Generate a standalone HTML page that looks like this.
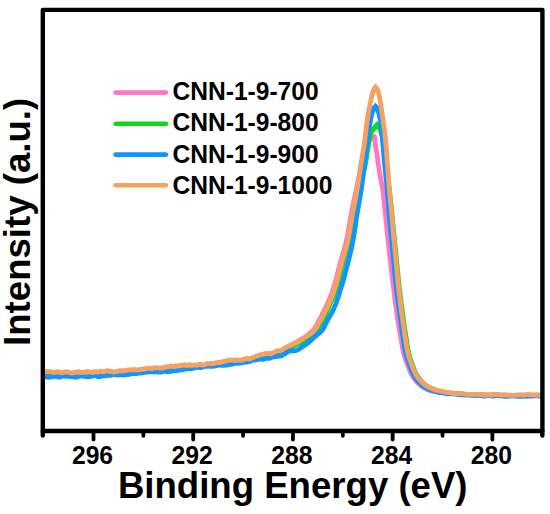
<!DOCTYPE html>
<html lang="en"><head><meta charset="utf-8"><title>C 1s XPS spectra of CNN-1-9 samples</title>
<style>
html,body{margin:0;padding:0;background:#fff;}
body{width:550px;height:514px;overflow:hidden;}
svg{display:block;}
text{font-family:"Liberation Sans",sans-serif;font-weight:bold;fill:#000;}
.curve{fill:none;stroke-width:4.8;stroke-linecap:butt;stroke-linejoin:round;}
.tip{stroke-linejoin:miter;}
.axis{fill:none;stroke:#000;stroke-width:4.4;stroke-linejoin:round;}
.tick{stroke:#000;stroke-linecap:round;}
.key{stroke-width:4.6;stroke-linecap:round;}
</style></head>
<body>
<svg width="550" height="514" viewBox="0 0 550 514" role="img" aria-label="XPS spectra: intensity versus binding energy">
<rect width="550" height="514" fill="#fff"/>
<!-- spectra (drawn 700, 800, 900, 1000 so the last sits on top) -->
<g id="spectra">
<path class="curve" stroke="#FF78C7" d="M43.5,374.2 L44.0,374.2 L44.5,374.2 L45.0,374.2 L45.5,373.9 L46.0,373.9 L46.5,373.7 L47.0,373.7 L47.5,374.2 L48.0,374.1 L48.5,373.8 L49.0,373.9 L49.5,374.2 L50.0,374.4 L50.5,374.6 L51.0,374.7 L51.5,374.9 L52.0,374.8 L52.5,374.2 L53.0,374.0 L53.5,374.0 L54.0,373.9 L54.5,373.8 L55.0,373.7 L55.5,373.6 L56.0,373.7 L56.5,373.3 L57.0,373.3 L57.5,373.9 L58.0,374.0 L58.5,373.6 L59.0,373.7 L59.5,374.4 L60.0,374.4 L60.5,374.5 L61.0,374.4 L61.5,374.4 L62.0,374.4 L62.5,374.0 L63.0,373.9 L63.5,374.3 L64.0,374.2 L64.5,373.8 L65.0,373.7 L65.5,373.6 L66.0,373.6 L66.5,373.6 L67.0,373.7 L67.5,373.7 L68.0,373.8 L68.5,374.1 L69.0,374.1 L69.5,374.3 L70.0,374.4 L70.5,373.8 L71.0,373.8 L71.5,374.2 L72.0,374.1 L72.5,374.4 L73.0,374.3 L73.5,374.1 L74.0,374.0 L74.5,374.0 L75.0,374.0 L75.5,373.6 L76.0,373.6 L76.5,374.1 L77.0,374.1 L77.5,373.7 L78.0,373.8 L78.5,374.2 L79.0,374.3 L79.5,374.6 L80.0,374.6 L80.5,374.7 L81.0,374.6 L81.5,374.2 L82.0,374.1 L82.5,374.0 L83.0,373.9 L83.5,373.6 L84.0,373.6 L84.5,373.6 L85.0,373.7 L85.5,374.2 L86.0,374.3 L86.5,374.1 L87.0,374.1 L87.5,374.1 L88.0,374.0 L88.5,373.7 L89.0,373.7 L89.5,373.9 L90.0,373.9 L90.5,374.0 L91.0,374.0 L91.5,373.7 L92.0,373.7 L92.5,373.7 L93.0,373.7 L93.5,374.0 L94.0,374.0 L94.5,373.7 L95.0,373.6 L95.5,373.5 L96.0,373.5 L96.5,373.3 L97.0,373.3 L97.5,373.4 L98.0,373.3 L98.5,373.4 L99.0,373.3 L99.5,373.6 L100.0,373.6 L100.5,373.2 L101.0,373.2 L101.5,373.6 L102.0,373.6 L102.5,373.0 L103.0,372.9 L103.5,373.0 L104.0,372.9 L104.5,373.2 L105.0,373.2 L105.5,373.1 L106.0,373.2 L106.5,373.1 L107.0,373.2 L107.5,373.3 L108.0,373.3 L108.5,373.3 L109.0,373.3 L109.5,372.8 L110.0,372.7 L110.5,372.9 L111.0,372.8 L111.5,372.8 L112.0,372.8 L112.5,372.7 L113.0,372.7 L113.5,372.9 L114.0,372.9 L114.5,372.6 L115.0,372.7 L115.5,372.8 L116.0,372.9 L116.5,373.0 L117.0,373.1 L117.5,373.3 L118.0,373.3 L118.5,373.1 L119.0,373.0 L119.5,373.2 L120.0,373.1 L120.5,372.5 L121.0,372.4 L121.5,372.7 L122.0,372.6 L122.5,372.2 L123.0,372.2 L123.5,372.4 L124.0,372.4 L124.5,372.6 L125.0,372.7 L125.5,373.0 L126.0,373.0 L126.5,372.8 L127.0,372.7 L127.5,372.3 L128.0,372.1 L128.5,372.3 L129.0,372.2 L129.5,371.8 L130.0,371.8 L130.5,371.6 L131.0,371.6 L131.5,371.8 L132.0,371.7 L132.5,371.6 L133.0,371.7 L133.5,371.9 L134.0,372.0 L134.5,371.8 L135.0,371.8 L135.5,372.0 L136.0,371.9 L136.5,371.9 L137.0,371.7 L137.5,371.6 L138.0,371.5 L138.5,371.3 L139.0,371.2 L139.5,371.1 L140.0,371.0 L140.5,371.2 L141.0,371.1 L141.5,370.9 L142.0,370.8 L142.5,370.8 L143.0,370.8 L143.5,370.6 L144.0,370.6 L144.5,370.7 L145.0,370.7 L145.5,370.5 L146.0,370.5 L146.5,370.6 L147.0,370.5 L147.5,370.5 L148.0,370.4 L148.5,370.2 L149.0,370.2 L149.5,370.3 L150.0,370.3 L150.5,370.2 L151.0,370.1 L151.5,370.3 L152.0,370.2 L152.5,369.9 L153.0,369.9 L153.5,369.6 L154.0,369.6 L154.5,369.9 L155.0,369.8 L155.5,369.7 L156.0,369.7 L156.5,369.6 L157.0,369.5 L157.5,369.8 L158.0,369.7 L158.5,369.6 L159.0,369.6 L159.5,369.6 L160.0,369.6 L160.5,369.4 L161.0,369.4 L161.5,369.4 L162.0,369.3 L162.5,369.3 L163.0,369.2 L163.5,369.4 L164.0,369.3 L164.5,368.8 L165.0,368.7 L165.5,368.7 L166.0,368.6 L166.5,368.6 L167.0,368.5 L167.5,368.1 L168.0,368.1 L168.5,368.1 L169.0,368.2 L169.5,368.8 L170.0,368.7 L170.5,368.1 L171.0,368.1 L171.5,368.4 L172.0,368.4 L172.5,368.2 L173.0,368.1 L173.5,368.1 L174.0,368.0 L174.5,367.8 L175.0,367.7 L175.5,367.9 L176.0,367.8 L176.5,368.0 L177.0,368.0 L177.5,367.5 L178.0,367.4 L178.5,367.7 L179.0,367.6 L179.5,367.5 L180.0,367.6 L180.5,367.9 L181.0,368.0 L181.5,367.6 L182.0,367.6 L182.5,367.9 L183.0,367.9 L183.5,367.8 L184.0,367.8 L184.5,367.5 L185.0,367.4 L185.5,367.0 L186.0,367.0 L186.5,367.5 L187.0,367.5 L187.5,367.0 L188.0,367.1 L188.5,367.3 L189.0,367.3 L189.5,367.5 L190.0,367.5 L190.5,367.4 L191.0,367.3 L191.5,366.8 L192.0,366.6 L192.5,366.6 L193.0,366.5 L193.5,366.4 L194.0,366.4 L194.5,366.6 L195.0,366.6 L195.5,366.8 L196.0,366.8 L196.5,365.9 L197.0,365.9 L197.5,366.4 L198.0,366.4 L198.5,365.8 L199.0,365.9 L199.5,366.5 L200.0,366.5 L200.5,366.4 L201.0,366.4 L201.5,366.9 L202.0,366.9 L202.5,366.5 L203.0,366.4 L203.5,366.1 L204.0,366.0 L204.5,366.0 L205.0,365.9 L205.5,365.8 L206.0,365.7 L206.5,365.8 L207.0,365.8 L207.5,365.8 L208.0,365.8 L208.5,365.9 L209.0,365.9 L209.5,366.0 L210.0,366.0 L210.5,365.8 L211.0,365.8 L211.5,365.5 L212.0,365.5 L212.5,365.4 L213.0,365.4 L213.5,365.5 L214.0,365.4 L214.5,365.7 L215.0,365.6 L215.5,365.4 L216.0,365.3 L216.5,365.3 L217.0,365.2 L217.5,365.3 L218.0,365.3 L218.5,365.0 L219.0,364.9 L219.5,364.9 L220.0,364.8 L220.5,365.0 L221.0,364.8 L221.5,364.6 L222.0,364.5 L222.5,364.4 L223.0,364.3 L223.5,364.4 L224.0,364.5 L224.5,364.3 L225.0,364.3 L225.5,364.3 L226.0,364.2 L226.5,364.2 L227.0,364.1 L227.5,364.2 L228.0,364.1 L228.5,363.9 L229.0,363.8 L229.5,363.6 L230.0,363.5 L230.5,363.5 L231.0,363.4 L231.5,363.4 L232.0,363.2 L232.5,363.2 L233.0,363.1 L233.5,362.6 L234.0,362.5 L234.5,362.6 L235.0,362.6 L235.5,362.4 L236.0,362.4 L236.5,362.6 L237.0,362.5 L237.5,362.4 L238.0,362.4 L238.5,362.4 L239.0,362.3 L239.5,362.0 L240.0,361.8 L240.5,361.5 L241.0,361.4 L241.5,361.3 L242.0,361.2 L242.5,361.3 L243.0,361.3 L243.5,361.3 L244.0,361.2 L244.5,361.4 L245.0,361.3 L245.5,361.1 L246.0,360.9 L246.5,360.4 L247.0,360.3 L247.5,360.4 L248.0,360.2 L248.5,359.9 L249.0,359.8 L249.5,359.7 L250.0,359.5 L250.5,359.7 L251.0,359.5 L251.5,359.3 L252.0,359.1 L252.5,358.6 L253.0,358.4 L253.5,358.5 L254.0,358.3 L254.5,357.8 L255.0,357.7 L255.5,357.5 L256.0,357.5 L256.5,357.6 L257.0,357.6 L257.5,357.4 L258.0,357.3 L258.5,357.2 L259.0,357.1 L259.5,356.9 L260.0,356.8 L260.5,356.6 L261.0,356.5 L261.5,356.2 L262.0,356.1 L262.5,356.0 L263.0,355.9 L263.5,355.7 L264.0,355.7 L264.5,355.8 L265.0,355.7 L265.5,355.9 L266.0,355.8 L266.5,355.4 L267.0,355.2 L267.5,355.2 L268.0,355.0 L268.5,354.9 L269.0,354.8 L269.5,354.4 L270.0,354.2 L270.5,354.2 L271.0,354.1 L271.5,354.2 L272.0,354.1 L272.5,353.9 L273.0,353.8 L273.5,353.9 L274.0,353.9 L274.5,353.8 L275.0,353.7 L275.5,353.5 L276.0,353.5 L276.5,353.3 L277.0,353.2 L277.5,353.0 L278.0,352.8 L278.5,352.6 L279.0,352.3 L279.5,352.3 L280.0,352.0 L280.5,351.8 L281.0,351.5 L281.5,351.2 L282.0,351.0 L282.5,350.8 L283.0,350.5 L283.5,350.0 L284.0,349.7 L284.5,349.5 L285.0,349.1 L285.5,348.7 L286.0,348.3 L286.5,348.0 L287.0,347.6 L287.5,347.3 L288.0,347.0 L288.5,346.7 L289.0,346.3 L289.5,346.2 L290.0,345.9 L290.5,345.3 L291.0,345.0 L291.5,344.9 L292.0,344.6 L292.5,344.4 L293.0,344.2 L293.5,343.9 L294.0,343.7 L294.5,343.3 L295.0,343.1 L295.5,343.0 L296.0,342.8 L296.5,342.3 L297.0,342.0 L297.5,341.6 L298.0,341.3 L298.5,341.1 L299.0,340.7 L299.5,340.2 L300.0,339.8 L300.5,339.4 L301.0,339.1 L301.5,339.1 L302.0,338.8 L302.5,338.6 L303.0,338.3 L303.5,338.1 L304.0,337.8 L304.5,337.4 L305.0,337.0 L305.5,336.7 L306.0,336.3 L306.5,335.8 L307.0,335.4 L307.5,335.2 L308.0,334.8 L308.5,334.3 L309.0,333.9 L309.5,333.4 L310.0,333.0 L310.5,332.4 L311.0,332.0 L311.5,331.7 L312.0,331.3 L312.5,330.9 L313.0,330.4 L313.5,329.8 L314.0,329.2 L314.5,328.5 L315.0,327.8 L315.5,326.9 L316.0,326.1 L316.5,325.2 L317.0,324.3 L317.5,323.4 L318.0,322.4 L318.5,321.5 L319.0,320.5 L319.5,319.6 L320.0,318.7 L320.5,317.7 L321.0,316.8 L321.5,315.9 L322.0,314.9 L322.5,313.8 L323.0,312.8 L323.5,311.9 L324.0,310.9 L324.5,309.9 L325.0,308.8 L325.5,307.9 L326.0,306.8 L326.5,305.7 L327.0,304.6 L327.5,303.5 L328.0,302.3 L328.5,301.2 L329.0,300.0 L329.5,298.7 L330.0,297.5 L330.5,296.4 L331.0,295.2 L331.5,293.8 L332.0,292.5 L332.5,291.1 L333.0,289.7 L333.5,288.2 L334.0,286.6 L334.5,284.9 L335.0,283.2 L335.5,281.3 L336.0,279.5 L336.5,277.5 L337.0,275.6 L337.5,273.6 L338.0,271.6 L338.5,269.6 L339.0,267.6 L339.5,265.8 L340.0,263.9 L340.5,262.1 L341.0,260.4 L341.5,258.7 L342.0,257.0 L342.5,255.3 L343.0,253.6 L343.5,251.9 L344.0,250.2 L344.5,248.4 L345.0,246.5 L345.5,244.5 L346.0,242.5 L346.5,240.4 L347.0,238.0 L347.5,235.5 L348.0,232.7 L348.5,229.9 L349.0,226.9 L349.5,224.0 L350.0,221.0 L350.5,218.1 L351.0,215.4 L351.5,212.8 L352.0,210.3 L352.5,207.8 L353.0,205.3 L353.5,202.9 L354.0,200.5 L354.5,198.0 L355.0,195.7 L355.5,193.3 L356.0,191.0 L356.5,188.6 L357.0,186.2 L357.5,183.9 L358.0,181.6 L358.5,179.3 L359.0,177.1 L359.5,174.8 L360.0,172.6 L360.5,170.4 L361.0,168.2 L361.5,165.9 L362.0,163.6 L362.5,161.4 L363.0,159.2 L363.5,157.0 L364.0,155.1 L364.5,153.3 L365.0,151.6 L365.5,149.9 L366.0,148.4 L366.5,146.9 L367.0,145.6 L367.5,144.3 L368.0,143.2 L368.5,142.2 L369.0,141.3 L369.5,140.4 L370.0,139.6 L370.5,138.9 L371.0,138.3 L371.5,137.7 L372.0,137.3 L372.5,136.8 L373.0,136.5 L373.5,136.4 L374.0,136.2 L374.5,136.8 L375.0,141.0 L375.5,144.8 L376.0,148.2 L376.5,151.4 L377.0,154.9 L377.5,158.6 L378.0,162.3 L378.5,165.6 L379.0,168.8 L379.5,171.7 L380.0,174.6 L380.5,177.4 L381.0,180.2 L381.5,182.7 L382.0,185.2 L382.5,188.0 L383.0,191.4 L383.5,195.5 L384.0,200.2 L384.5,205.2 L385.0,210.3 L385.5,215.3 L386.0,220.1 L386.5,225.0 L387.0,230.0 L387.5,235.0 L388.0,239.8 L388.5,244.5 L389.0,249.2 L389.5,253.8 L390.0,258.3 L390.5,262.7 L391.0,267.1 L391.5,271.3 L392.0,275.4 L392.5,279.5 L393.0,283.5 L393.5,287.5 L394.0,291.5 L394.5,295.5 L395.0,299.5 L395.5,303.5 L396.0,307.4 L396.5,311.1 L397.0,314.7 L397.5,318.0 L398.0,321.2 L398.5,324.3 L399.0,327.4 L399.5,330.3 L400.0,333.2 L400.5,336.0 L401.0,338.8 L401.5,341.7 L402.0,344.6 L402.5,347.5 L403.0,350.2 L403.5,352.6 L404.0,354.6 L404.5,356.4 L405.0,358.0 L405.5,359.4 L406.0,360.8 L406.5,362.1 L407.0,363.4 L407.5,364.7 L408.0,366.1 L408.5,367.5 L409.0,368.8 L409.5,370.1 L410.0,371.3 L410.5,372.4 L411.0,373.5 L411.5,374.5 L412.0,375.3 L412.5,376.2 L413.0,376.9 L413.5,377.8 L414.0,378.5 L414.5,379.0 L415.0,379.7 L415.5,380.3 L416.0,380.9 L416.5,381.5 L417.0,382.0 L417.5,382.7 L418.0,383.2 L418.5,383.5 L419.0,383.9 L419.5,384.5 L420.0,385.0 L420.5,385.3 L421.0,385.7 L421.5,386.1 L422.0,386.5 L422.5,386.8 L423.0,387.1 L423.5,387.6 L424.0,387.9 L424.5,388.0 L425.0,388.3 L425.5,388.5 L426.0,388.8 L426.5,389.2 L427.0,389.4 L427.5,389.5 L428.0,389.7 L428.5,390.0 L429.0,390.2 L429.5,390.4 L430.0,390.5 L430.5,390.7 L431.0,390.9 L431.5,391.0 L432.0,391.1 L432.5,391.2 L433.0,391.3 L433.5,391.4 L434.0,391.5 L434.5,391.6 L435.0,391.6 L435.5,391.6 L436.0,391.7 L436.5,391.8 L437.0,391.9 L437.5,392.0 L438.0,392.1 L438.5,392.3 L439.0,392.4 L439.5,392.4 L440.0,392.5 L440.5,392.6 L441.0,392.6 L441.5,392.6 L442.0,392.6 L442.5,392.7 L443.0,392.7 L443.5,392.6 L444.0,392.7 L444.5,392.8 L445.0,392.8 L445.5,392.7 L446.0,392.7 L446.5,392.8 L447.0,392.9 L447.5,393.0 L448.0,393.0 L448.5,393.0 L449.0,393.0 L449.5,393.2 L450.0,393.3 L450.5,393.1 L451.0,393.2 L451.5,393.3 L452.0,393.3 L452.5,393.2 L453.0,393.2 L453.5,393.3 L454.0,393.4 L454.5,393.5 L455.0,393.5 L455.5,393.6 L456.0,393.7 L456.5,393.7 L457.0,393.8 L457.5,393.9 L458.0,394.0 L458.5,394.0 L459.0,394.0 L459.5,394.0 L460.0,394.0 L460.5,394.0 L461.0,394.1 L461.5,394.2 L462.0,394.2 L462.5,394.3 L463.0,394.4 L463.5,394.6 L464.0,394.7 L464.5,394.8 L465.0,394.8 L465.5,394.7 L466.0,394.7 L466.5,394.6 L467.0,394.6 L467.5,394.7 L468.0,394.8 L468.5,394.8 L469.0,394.8 L469.5,394.5 L470.0,394.5 L470.5,394.7 L471.0,394.7 L471.5,394.8 L472.0,394.8 L472.5,394.7 L473.0,394.7 L473.5,394.7 L474.0,394.8 L474.5,394.8 L475.0,394.8 L475.5,394.9 L476.0,395.0 L476.5,394.8 L477.0,394.9 L477.5,395.0 L478.0,395.1 L478.5,395.2 L479.0,395.2 L479.5,395.1 L480.0,395.1 L480.5,395.2 L481.0,395.2 L481.5,394.9 L482.0,394.9 L482.5,395.1 L483.0,395.1 L483.5,395.1 L484.0,395.0 L484.5,394.9 L485.0,394.9 L485.5,395.0 L486.0,395.0 L486.5,395.1 L487.0,395.2 L487.5,394.9 L488.0,394.9 L488.5,394.9 L489.0,394.9 L489.5,395.0 L490.0,395.0 L490.5,395.1 L491.0,395.1 L491.5,395.0 L492.0,395.0 L492.5,395.1 L493.0,395.1 L493.5,395.1 L494.0,395.1 L494.5,395.0 L495.0,395.1 L495.5,395.1 L496.0,395.1 L496.5,395.4 L497.0,395.4 L497.5,395.4 L498.0,395.4 L498.5,395.4 L499.0,395.4 L499.5,395.3 L500.0,395.3 L500.5,395.2 L501.0,395.2 L501.5,395.2 L502.0,395.2 L502.5,395.2 L503.0,395.2 L503.5,395.1 L504.0,395.1 L504.5,395.1 L505.0,395.2 L505.5,395.2 L506.0,395.2 L506.5,395.2 L507.0,395.3 L507.5,395.6 L508.0,395.6 L508.5,395.4 L509.0,395.4 L509.5,395.3 L510.0,395.2 L510.5,395.3 L511.0,395.3 L511.5,395.3 L512.0,395.3 L512.5,395.5 L513.0,395.5 L513.5,395.4 L514.0,395.4 L514.5,395.5 L515.0,395.5 L515.5,395.5 L516.0,395.4 L516.5,395.5 L517.0,395.4 L517.5,395.5 L518.0,395.4 L518.5,395.5 L519.0,395.5 L519.5,395.3 L520.0,395.3 L520.5,395.1 L521.0,395.1 L521.5,395.3 L522.0,395.3 L522.5,395.5 L523.0,395.5 L523.5,395.7 L524.0,395.7 L524.5,395.6 L525.0,395.6 L525.5,395.6 L526.0,395.6 L526.5,395.5 L527.0,395.5 L527.5,395.6 L528.0,395.6 L528.5,395.6 L529.0,395.6 L529.5,395.5 L530.0,395.5 L530.5,395.6 L531.0,395.5 L531.5,395.5 L532.0,395.4 L532.5,395.2 L533.0,395.2 L533.5,395.3 L534.0,395.3 L534.5,395.4 L535.0,395.4 L535.5,395.3 L536.0,395.3 L536.5,395.3 L537.0,395.3 L537.5,395.2 L538.0,395.2 L538.5,395.2 L539.0,395.2 L539.5,395.2 L540.0,395.2 L540.5,395.1 L541.0,395.0"/>
<path class="curve" stroke="#0FD916" d="M43.5,374.1 L44.0,374.1 L44.5,374.8 L45.0,374.8 L45.5,374.9 L46.0,374.9 L46.5,374.8 L47.0,374.8 L47.5,374.4 L48.0,374.4 L48.5,374.8 L49.0,374.7 L49.5,374.6 L50.0,374.7 L50.5,374.5 L51.0,374.6 L51.5,374.7 L52.0,374.8 L52.5,374.5 L53.0,374.4 L53.5,374.9 L54.0,374.9 L54.5,374.3 L55.0,374.3 L55.5,374.7 L56.0,374.7 L56.5,374.7 L57.0,374.7 L57.5,374.6 L58.0,374.6 L58.5,375.0 L59.0,375.0 L59.5,374.7 L60.0,374.7 L60.5,375.0 L61.0,375.0 L61.5,375.2 L62.0,375.3 L62.5,375.2 L63.0,375.3 L63.5,375.1 L64.0,375.0 L64.5,375.2 L65.0,375.1 L65.5,374.8 L66.0,374.6 L66.5,374.4 L67.0,374.2 L67.5,374.2 L68.0,374.1 L68.5,374.2 L69.0,374.2 L69.5,374.8 L70.0,374.9 L70.5,374.6 L71.0,374.6 L71.5,374.5 L72.0,374.5 L72.5,374.3 L73.0,374.3 L73.5,374.4 L74.0,374.4 L74.5,374.3 L75.0,374.3 L75.5,374.7 L76.0,374.6 L76.5,374.5 L77.0,374.5 L77.5,374.2 L78.0,374.2 L78.5,374.2 L79.0,374.2 L79.5,374.4 L80.0,374.5 L80.5,374.4 L81.0,374.3 L81.5,374.1 L82.0,374.0 L82.5,374.2 L83.0,374.1 L83.5,374.0 L84.0,373.9 L84.5,373.9 L85.0,374.0 L85.5,374.2 L86.0,374.4 L86.5,374.4 L87.0,374.6 L87.5,375.1 L88.0,375.2 L88.5,374.7 L89.0,374.6 L89.5,374.8 L90.0,374.6 L90.5,374.5 L91.0,374.3 L91.5,374.1 L92.0,374.1 L92.5,374.2 L93.0,374.2 L93.5,374.0 L94.0,374.0 L94.5,374.0 L95.0,374.0 L95.5,374.2 L96.0,374.1 L96.5,374.0 L97.0,373.9 L97.5,374.0 L98.0,373.9 L98.5,373.7 L99.0,373.7 L99.5,373.8 L100.0,373.9 L100.5,373.9 L101.0,374.0 L101.5,374.1 L102.0,374.2 L102.5,374.2 L103.0,374.2 L103.5,374.0 L104.0,373.9 L104.5,373.8 L105.0,373.7 L105.5,374.0 L106.0,374.0 L106.5,373.2 L107.0,373.2 L107.5,373.5 L108.0,373.6 L108.5,373.8 L109.0,373.8 L109.5,373.7 L110.0,373.7 L110.5,373.8 L111.0,373.7 L111.5,373.5 L112.0,373.5 L112.5,373.2 L113.0,373.2 L113.5,373.3 L114.0,373.3 L114.5,373.0 L115.0,372.9 L115.5,373.2 L116.0,373.1 L116.5,373.1 L117.0,373.2 L117.5,372.9 L118.0,373.0 L118.5,373.2 L119.0,373.3 L119.5,373.1 L120.0,373.1 L120.5,372.9 L121.0,372.8 L121.5,372.9 L122.0,372.8 L122.5,372.6 L123.0,372.5 L123.5,372.6 L124.0,372.6 L124.5,372.7 L125.0,372.7 L125.5,372.7 L126.0,372.7 L126.5,372.9 L127.0,372.9 L127.5,372.6 L128.0,372.6 L128.5,372.7 L129.0,372.6 L129.5,372.6 L130.0,372.5 L130.5,372.5 L131.0,372.5 L131.5,372.0 L132.0,372.0 L132.5,372.3 L133.0,372.3 L133.5,372.5 L134.0,372.4 L134.5,372.0 L135.0,371.9 L135.5,372.0 L136.0,372.0 L136.5,372.0 L137.0,371.9 L137.5,371.4 L138.0,371.3 L138.5,371.5 L139.0,371.5 L139.5,371.6 L140.0,371.6 L140.5,371.6 L141.0,371.7 L141.5,371.5 L142.0,371.5 L142.5,371.8 L143.0,371.8 L143.5,371.6 L144.0,371.6 L144.5,371.8 L145.0,371.8 L145.5,371.6 L146.0,371.5 L146.5,371.2 L147.0,371.0 L147.5,371.0 L148.0,371.0 L148.5,370.8 L149.0,370.8 L149.5,370.9 L150.0,371.1 L150.5,371.0 L151.0,371.1 L151.5,371.2 L152.0,371.1 L152.5,371.0 L153.0,370.8 L153.5,370.4 L154.0,370.2 L154.5,370.0 L155.0,370.0 L155.5,369.9 L156.0,369.9 L156.5,369.9 L157.0,369.9 L157.5,370.0 L158.0,369.9 L158.5,369.5 L159.0,369.5 L159.5,370.0 L160.0,370.0 L160.5,369.6 L161.0,369.6 L161.5,369.9 L162.0,369.9 L162.5,369.7 L163.0,369.7 L163.5,369.4 L164.0,369.3 L164.5,369.4 L165.0,369.3 L165.5,369.1 L166.0,368.9 L166.5,368.8 L167.0,368.7 L167.5,368.6 L168.0,368.5 L168.5,368.2 L169.0,368.2 L169.5,368.2 L170.0,368.3 L170.5,368.4 L171.0,368.5 L171.5,368.5 L172.0,368.6 L172.5,368.8 L173.0,368.8 L173.5,368.9 L174.0,368.8 L174.5,368.6 L175.0,368.5 L175.5,368.3 L176.0,368.1 L176.5,367.8 L177.0,367.6 L177.5,367.6 L178.0,367.6 L178.5,367.1 L179.0,367.2 L179.5,367.6 L180.0,367.8 L180.5,367.9 L181.0,368.0 L181.5,368.1 L182.0,368.0 L182.5,367.9 L183.0,367.7 L183.5,367.6 L184.0,367.5 L184.5,367.4 L185.0,367.5 L185.5,367.7 L186.0,367.8 L186.5,367.5 L187.0,367.5 L187.5,367.6 L188.0,367.5 L188.5,367.0 L189.0,367.0 L189.5,367.5 L190.0,367.4 L190.5,367.3 L191.0,367.2 L191.5,366.7 L192.0,366.5 L192.5,366.3 L193.0,366.2 L193.5,365.9 L194.0,365.9 L194.5,366.0 L195.0,366.1 L195.5,366.3 L196.0,366.3 L196.5,366.2 L197.0,366.2 L197.5,365.9 L198.0,365.9 L198.5,366.0 L199.0,366.0 L199.5,365.9 L200.0,365.8 L200.5,365.9 L201.0,365.8 L201.5,365.8 L202.0,365.8 L202.5,365.7 L203.0,365.7 L203.5,365.8 L204.0,365.8 L204.5,365.8 L205.0,365.7 L205.5,365.3 L206.0,365.3 L206.5,365.6 L207.0,365.5 L207.5,365.5 L208.0,365.6 L208.5,365.8 L209.0,365.8 L209.5,365.4 L210.0,365.3 L210.5,365.7 L211.0,365.6 L211.5,365.3 L212.0,365.2 L212.5,365.3 L213.0,365.2 L213.5,365.2 L214.0,365.0 L214.5,364.4 L215.0,364.3 L215.5,364.2 L216.0,364.1 L216.5,364.4 L217.0,364.3 L217.5,363.9 L218.0,363.8 L218.5,363.7 L219.0,363.5 L219.5,363.7 L220.0,363.6 L220.5,363.4 L221.0,363.4 L221.5,363.6 L222.0,363.6 L222.5,363.6 L223.0,363.6 L223.5,363.5 L224.0,363.5 L224.5,363.6 L225.0,363.5 L225.5,363.6 L226.0,363.5 L226.5,363.1 L227.0,363.1 L227.5,363.4 L228.0,363.4 L228.5,363.4 L229.0,363.4 L229.5,363.2 L230.0,363.2 L230.5,363.1 L231.0,363.0 L231.5,362.6 L232.0,362.5 L232.5,362.3 L233.0,362.2 L233.5,362.2 L234.0,362.1 L234.5,362.1 L235.0,362.1 L235.5,362.2 L236.0,362.1 L236.5,361.6 L237.0,361.5 L237.5,361.5 L238.0,361.3 L238.5,361.1 L239.0,361.0 L239.5,360.9 L240.0,360.9 L240.5,361.0 L241.0,361.0 L241.5,360.7 L242.0,360.6 L242.5,360.9 L243.0,360.8 L243.5,360.5 L244.0,360.4 L244.5,360.4 L245.0,360.2 L245.5,360.3 L246.0,360.2 L246.5,359.9 L247.0,359.8 L247.5,359.8 L248.0,359.8 L248.5,359.7 L249.0,359.7 L249.5,359.6 L250.0,359.6 L250.5,359.5 L251.0,359.4 L251.5,359.1 L252.0,359.0 L252.5,359.1 L253.0,359.0 L253.5,359.0 L254.0,358.9 L254.5,358.8 L255.0,358.6 L255.5,358.2 L256.0,358.0 L256.5,358.0 L257.0,357.8 L257.5,357.5 L258.0,357.3 L258.5,356.9 L259.0,356.8 L259.5,356.7 L260.0,356.7 L260.5,356.8 L261.0,356.7 L261.5,356.3 L262.0,356.1 L262.5,356.2 L263.0,356.1 L263.5,356.1 L264.0,356.1 L264.5,356.1 L265.0,356.1 L265.5,356.2 L266.0,356.1 L266.5,356.2 L267.0,356.1 L267.5,355.9 L268.0,355.8 L268.5,355.8 L269.0,355.7 L269.5,356.1 L270.0,356.1 L270.5,355.5 L271.0,355.5 L271.5,355.6 L272.0,355.5 L272.5,355.4 L273.0,355.2 L273.5,355.0 L274.0,354.8 L274.5,355.0 L275.0,354.9 L275.5,354.6 L276.0,354.5 L276.5,354.5 L277.0,354.4 L277.5,353.8 L278.0,353.6 L278.5,353.8 L279.0,353.6 L279.5,353.4 L280.0,353.2 L280.5,352.8 L281.0,352.7 L281.5,352.7 L282.0,352.5 L282.5,352.2 L283.0,351.9 L283.5,351.7 L284.0,351.4 L284.5,351.2 L285.0,351.0 L285.5,350.6 L286.0,350.3 L286.5,350.0 L287.0,349.7 L287.5,349.5 L288.0,349.3 L288.5,348.9 L289.0,348.6 L289.5,348.3 L290.0,348.0 L290.5,347.6 L291.0,347.3 L291.5,347.0 L292.0,346.8 L292.5,346.7 L293.0,346.4 L293.5,346.1 L294.0,345.9 L294.5,345.4 L295.0,345.2 L295.5,345.1 L296.0,344.8 L296.5,344.3 L297.0,344.1 L297.5,344.0 L298.0,343.8 L298.5,343.7 L299.0,343.4 L299.5,343.3 L300.0,343.1 L300.5,342.9 L301.0,342.7 L301.5,342.5 L302.0,342.3 L302.5,342.2 L303.0,342.0 L303.5,341.7 L304.0,341.5 L304.5,341.2 L305.0,340.8 L305.5,340.3 L306.0,339.9 L306.5,339.4 L307.0,338.9 L307.5,338.5 L308.0,338.1 L308.5,337.7 L309.0,337.3 L309.5,336.9 L310.0,336.5 L310.5,336.2 L311.0,335.8 L311.5,335.4 L312.0,334.9 L312.5,334.4 L313.0,333.9 L313.5,333.5 L314.0,333.0 L314.5,332.3 L315.0,331.8 L315.5,331.3 L316.0,330.8 L316.5,330.1 L317.0,329.6 L317.5,329.1 L318.0,328.5 L318.5,327.9 L319.0,327.3 L319.5,326.7 L320.0,326.0 L320.5,325.2 L321.0,324.5 L321.5,323.8 L322.0,322.9 L322.5,321.9 L323.0,320.9 L323.5,319.9 L324.0,318.8 L324.5,317.6 L325.0,316.4 L325.5,315.1 L326.0,313.9 L326.5,312.7 L327.0,311.5 L327.5,310.2 L328.0,308.9 L328.5,307.8 L329.0,306.6 L329.5,305.4 L330.0,304.2 L330.5,303.1 L331.0,302.0 L331.5,300.8 L332.0,299.7 L332.5,298.6 L333.0,297.5 L333.5,296.3 L334.0,295.1 L334.5,293.9 L335.0,292.6 L335.5,291.3 L336.0,289.9 L336.5,288.4 L337.0,286.9 L337.5,285.3 L338.0,283.4 L338.5,281.5 L339.0,279.5 L339.5,277.3 L340.0,275.2 L340.5,273.1 L341.0,271.0 L341.5,268.9 L342.0,266.8 L342.5,265.0 L343.0,263.2 L343.5,261.4 L344.0,259.7 L344.5,258.0 L345.0,256.4 L345.5,254.8 L346.0,253.1 L346.5,251.5 L347.0,249.8 L347.5,248.0 L348.0,246.1 L348.5,244.2 L349.0,242.2 L349.5,240.0 L350.0,237.7 L350.5,235.1 L351.0,232.4 L351.5,229.5 L352.0,226.6 L352.5,223.6 L353.0,220.7 L353.5,217.8 L354.0,215.0 L354.5,212.2 L355.0,209.4 L355.5,206.5 L356.0,203.6 L356.5,200.8 L357.0,198.1 L357.5,195.4 L358.0,192.8 L358.5,190.4 L359.0,188.2 L359.5,186.2 L360.0,184.3 L360.5,182.5 L361.0,180.8 L361.5,179.1 L362.0,177.4 L362.5,175.7 L363.0,173.9 L363.5,172.1 L364.0,170.2 L364.5,168.1 L365.0,165.9 L365.5,163.5 L366.0,160.6 L366.5,157.4 L367.0,154.0 L367.5,150.5 L368.0,147.2 L368.5,144.1 L369.0,141.4 L369.5,139.2 L370.0,137.1 L370.5,135.2 L371.0,133.4 L371.5,132.0 L372.0,130.9 L372.5,130.2 L373.0,129.7 L373.5,129.1 L374.0,128.5 L374.5,127.9 L375.0,127.3 L375.5,126.7 L376.0,126.1 L376.5,125.5 L377.0,124.9 L377.5,125.3 L378.0,126.0 L378.5,126.7 L379.0,127.4 L379.5,128.1 L380.0,129.1 L380.5,130.4 L381.0,131.9 L381.5,133.7 L382.0,135.5 L382.5,137.5 L383.0,140.0 L383.5,143.1 L384.0,146.8 L384.5,150.9 L385.0,155.1 L385.5,159.2 L386.0,163.1 L386.5,166.9 L387.0,170.8 L387.5,174.6 L388.0,178.5 L388.5,182.5 L389.0,186.6 L389.5,190.8 L390.0,195.2 L390.5,199.7 L391.0,204.4 L391.5,209.2 L392.0,214.0 L392.5,219.0 L393.0,224.2 L393.5,229.5 L394.0,234.8 L394.5,240.0 L395.0,245.0 L395.5,250.1 L396.0,255.1 L396.5,260.0 L397.0,265.0 L397.5,270.0 L398.0,275.1 L398.5,280.1 L399.0,284.9 L399.5,289.5 L400.0,293.7 L400.5,297.8 L401.0,301.7 L401.5,305.4 L402.0,309.1 L402.5,312.7 L403.0,316.4 L403.5,320.0 L404.0,323.5 L404.5,327.0 L405.0,330.4 L405.5,333.7 L406.0,337.0 L406.5,340.2 L407.0,343.4 L407.5,346.5 L408.0,349.5 L408.5,352.1 L409.0,354.2 L409.5,356.0 L410.0,357.6 L410.5,359.2 L411.0,360.6 L411.5,362.1 L412.0,363.5 L412.5,365.0 L413.0,366.4 L413.5,367.8 L414.0,369.2 L414.5,370.5 L415.0,371.7 L415.5,372.7 L416.0,373.7 L416.5,374.5 L417.0,375.3 L417.5,376.0 L418.0,376.8 L418.5,377.5 L419.0,378.2 L419.5,378.8 L420.0,379.5 L420.5,380.1 L421.0,380.7 L421.5,381.2 L422.0,381.8 L422.5,382.3 L423.0,382.8 L423.5,383.2 L424.0,383.7 L424.5,384.2 L425.0,384.7 L425.5,384.9 L426.0,385.3 L426.5,385.7 L427.0,386.0 L427.5,386.3 L428.0,386.6 L428.5,387.0 L429.0,387.3 L429.5,387.4 L430.0,387.7 L430.5,388.0 L431.0,388.2 L431.5,388.4 L432.0,388.6 L432.5,388.8 L433.0,389.0 L433.5,389.3 L434.0,389.5 L434.5,389.7 L435.0,389.9 L435.5,390.1 L436.0,390.3 L436.5,390.4 L437.0,390.6 L437.5,390.7 L438.0,390.8 L438.5,391.1 L439.0,391.2 L439.5,391.3 L440.0,391.4 L440.5,391.4 L441.0,391.5 L441.5,391.8 L442.0,391.9 L442.5,392.1 L443.0,392.2 L443.5,392.2 L444.0,392.3 L444.5,392.3 L445.0,392.4 L445.5,392.6 L446.0,392.7 L446.5,392.6 L447.0,392.7 L447.5,392.7 L448.0,392.8 L448.5,392.9 L449.0,393.1 L449.5,393.0 L450.0,393.1 L450.5,393.3 L451.0,393.4 L451.5,393.5 L452.0,393.5 L452.5,393.7 L453.0,393.7 L453.5,393.5 L454.0,393.5 L454.5,393.6 L455.0,393.6 L455.5,393.6 L456.0,393.7 L456.5,393.8 L457.0,393.9 L457.5,394.0 L458.0,394.0 L458.5,394.0 L459.0,394.0 L459.5,394.0 L460.0,394.0 L460.5,394.3 L461.0,394.3 L461.5,394.2 L462.0,394.3 L462.5,394.4 L463.0,394.4 L463.5,394.5 L464.0,394.5 L464.5,394.5 L465.0,394.5 L465.5,394.5 L466.0,394.5 L466.5,394.4 L467.0,394.5 L467.5,394.7 L468.0,394.7 L468.5,394.6 L469.0,394.6 L469.5,394.7 L470.0,394.7 L470.5,394.5 L471.0,394.6 L471.5,394.5 L472.0,394.5 L472.5,394.8 L473.0,394.9 L473.5,395.1 L474.0,395.2 L474.5,395.2 L475.0,395.3 L475.5,395.3 L476.0,395.3 L476.5,395.3 L477.0,395.2 L477.5,395.2 L478.0,395.2 L478.5,395.0 L479.0,394.9 L479.5,394.9 L480.0,394.9 L480.5,394.9 L481.0,395.0 L481.5,394.9 L482.0,394.9 L482.5,395.2 L483.0,395.2 L483.5,395.1 L484.0,395.1 L484.5,394.9 L485.0,394.9 L485.5,395.1 L486.0,395.2 L486.5,395.2 L487.0,395.3 L487.5,395.4 L488.0,395.5 L488.5,395.6 L489.0,395.6 L489.5,395.7 L490.0,395.7 L490.5,395.6 L491.0,395.5 L491.5,395.6 L492.0,395.5 L492.5,395.5 L493.0,395.4 L493.5,395.4 L494.0,395.4 L494.5,395.3 L495.0,395.3 L495.5,395.4 L496.0,395.4 L496.5,395.4 L497.0,395.4 L497.5,395.2 L498.0,395.2 L498.5,395.3 L499.0,395.3 L499.5,395.2 L500.0,395.2 L500.5,395.5 L501.0,395.5 L501.5,395.3 L502.0,395.3 L502.5,395.4 L503.0,395.4 L503.5,395.5 L504.0,395.5 L504.5,395.4 L505.0,395.4 L505.5,395.4 L506.0,395.4 L506.5,395.4 L507.0,395.4 L507.5,395.5 L508.0,395.5 L508.5,395.4 L509.0,395.4 L509.5,395.5 L510.0,395.5 L510.5,395.5 L511.0,395.5 L511.5,395.4 L512.0,395.4 L512.5,395.5 L513.0,395.5 L513.5,395.5 L514.0,395.5 L514.5,395.6 L515.0,395.6 L515.5,395.6 L516.0,395.7 L516.5,395.6 L517.0,395.6 L517.5,395.4 L518.0,395.4 L518.5,395.5 L519.0,395.5 L519.5,395.3 L520.0,395.4 L520.5,395.5 L521.0,395.6 L521.5,395.9 L522.0,396.0 L522.5,395.9 L523.0,395.9 L523.5,396.0 L524.0,395.9 L524.5,395.6 L525.0,395.6 L525.5,395.5 L526.0,395.4 L526.5,395.3 L527.0,395.2 L527.5,395.4 L528.0,395.5 L528.5,395.4 L529.0,395.4 L529.5,395.6 L530.0,395.6 L530.5,395.6 L531.0,395.6 L531.5,395.6 L532.0,395.6 L532.5,395.5 L533.0,395.5 L533.5,395.4 L534.0,395.3 L534.5,395.2 L535.0,395.2 L535.5,395.2 L536.0,395.2 L536.5,395.1 L537.0,395.2 L537.5,395.5 L538.0,395.6 L538.5,395.8 L539.0,395.8 L539.5,395.7 L540.0,395.7 L540.5,395.7 L541.0,395.7"/>
<path class="curve tip" stroke="#0FD916" d="M372.1,130.7 L374.6,127.8 L377.1,124.8 L379.6,128.2"/>
<path class="curve" stroke="#0F95FF" d="M43.5,376.7 L44.0,376.9 L44.5,376.7 L45.0,376.8 L45.5,376.6 L46.0,376.6 L46.5,377.1 L47.0,377.1 L47.5,377.0 L48.0,377.0 L48.5,377.3 L49.0,377.3 L49.5,377.1 L50.0,377.0 L50.5,376.8 L51.0,376.7 L51.5,376.8 L52.0,376.7 L52.5,376.9 L53.0,376.8 L53.5,376.6 L54.0,376.5 L54.5,376.3 L55.0,376.3 L55.5,376.4 L56.0,376.5 L56.5,376.4 L57.0,376.6 L57.5,376.8 L58.0,376.9 L58.5,377.2 L59.0,377.2 L59.5,377.1 L60.0,377.0 L60.5,377.0 L61.0,376.9 L61.5,376.5 L62.0,376.3 L62.5,376.1 L63.0,376.0 L63.5,375.9 L64.0,375.8 L64.5,376.0 L65.0,376.0 L65.5,376.4 L66.0,376.4 L66.5,376.4 L67.0,376.4 L67.5,375.9 L68.0,376.0 L68.5,375.9 L69.0,375.9 L69.5,376.5 L70.0,376.6 L70.5,376.6 L71.0,376.6 L71.5,376.3 L72.0,376.3 L72.5,376.9 L73.0,376.9 L73.5,376.7 L74.0,376.8 L74.5,377.1 L75.0,377.1 L75.5,377.0 L76.0,377.1 L76.5,377.1 L77.0,377.1 L77.5,376.8 L78.0,376.7 L78.5,376.2 L79.0,376.1 L79.5,376.2 L80.0,376.1 L80.5,376.0 L81.0,375.9 L81.5,376.2 L82.0,376.2 L82.5,375.9 L83.0,376.0 L83.5,375.9 L84.0,376.0 L84.5,376.5 L85.0,376.6 L85.5,376.7 L86.0,376.6 L86.5,376.7 L87.0,376.7 L87.5,376.6 L88.0,376.7 L88.5,376.3 L89.0,376.4 L89.5,376.6 L90.0,376.6 L90.5,376.6 L91.0,376.4 L91.5,376.2 L92.0,376.0 L92.5,375.4 L93.0,375.3 L93.5,375.7 L94.0,375.7 L94.5,375.7 L95.0,375.8 L95.5,375.6 L96.0,375.7 L96.5,376.1 L97.0,376.3 L97.5,376.6 L98.0,376.8 L98.5,376.6 L99.0,376.6 L99.5,376.7 L100.0,376.6 L100.5,376.5 L101.0,376.4 L101.5,376.1 L102.0,376.0 L102.5,376.0 L103.0,375.9 L103.5,375.7 L104.0,375.6 L104.5,375.9 L105.0,375.9 L105.5,375.5 L106.0,375.5 L106.5,375.4 L107.0,375.3 L107.5,375.5 L108.0,375.4 L108.5,375.1 L109.0,375.1 L109.5,375.3 L110.0,375.3 L110.5,375.3 L111.0,375.2 L111.5,374.9 L112.0,374.8 L112.5,374.7 L113.0,374.6 L113.5,374.7 L114.0,374.7 L114.5,374.7 L115.0,374.8 L115.5,374.4 L116.0,374.5 L116.5,374.6 L117.0,374.6 L117.5,375.1 L118.0,375.1 L118.5,374.8 L119.0,374.8 L119.5,374.4 L120.0,374.4 L120.5,374.6 L121.0,374.6 L121.5,374.9 L122.0,374.9 L122.5,374.7 L123.0,374.6 L123.5,374.9 L124.0,374.9 L124.5,374.9 L125.0,374.9 L125.5,374.9 L126.0,374.8 L126.5,374.4 L127.0,374.2 L127.5,374.4 L128.0,374.3 L128.5,374.5 L129.0,374.4 L129.5,373.8 L130.0,373.7 L130.5,374.0 L131.0,373.9 L131.5,373.7 L132.0,373.6 L132.5,373.5 L133.0,373.5 L133.5,373.5 L134.0,373.6 L134.5,373.5 L135.0,373.5 L135.5,373.5 L136.0,373.4 L136.5,373.6 L137.0,373.4 L137.5,373.3 L138.0,373.2 L138.5,373.2 L139.0,373.2 L139.5,373.2 L140.0,373.2 L140.5,373.1 L141.0,373.1 L141.5,372.7 L142.0,372.6 L142.5,372.4 L143.0,372.3 L143.5,372.5 L144.0,372.4 L144.5,372.3 L145.0,372.2 L145.5,372.1 L146.0,372.1 L146.5,371.9 L147.0,371.9 L147.5,372.1 L148.0,372.1 L148.5,371.8 L149.0,371.7 L149.5,372.0 L150.0,371.9 L150.5,371.6 L151.0,371.6 L151.5,371.7 L152.0,371.7 L152.5,371.8 L153.0,371.8 L153.5,371.8 L154.0,371.8 L154.5,372.0 L155.0,372.0 L155.5,371.6 L156.0,371.6 L156.5,371.4 L157.0,371.4 L157.5,372.0 L158.0,372.0 L158.5,372.1 L159.0,372.2 L159.5,372.2 L160.0,372.2 L160.5,372.0 L161.0,372.0 L161.5,372.0 L162.0,371.9 L162.5,371.8 L163.0,371.7 L163.5,371.3 L164.0,371.2 L164.5,371.2 L165.0,371.1 L165.5,371.3 L166.0,371.3 L166.5,371.1 L167.0,371.2 L167.5,371.7 L168.0,371.8 L168.5,371.2 L169.0,371.1 L169.5,371.3 L170.0,371.3 L170.5,371.5 L171.0,371.5 L171.5,371.1 L172.0,371.0 L172.5,370.9 L173.0,370.8 L173.5,370.7 L174.0,370.6 L174.5,370.6 L175.0,370.5 L175.5,370.8 L176.0,370.7 L176.5,370.5 L177.0,370.4 L177.5,370.4 L178.0,370.4 L178.5,370.1 L179.0,370.0 L179.5,370.2 L180.0,370.1 L180.5,369.9 L181.0,369.9 L181.5,369.7 L182.0,369.7 L182.5,369.7 L183.0,369.6 L183.5,369.5 L184.0,369.3 L184.5,369.3 L185.0,369.1 L185.5,368.7 L186.0,368.6 L186.5,368.6 L187.0,368.6 L187.5,368.9 L188.0,368.9 L188.5,368.5 L189.0,368.5 L189.5,368.5 L190.0,368.5 L190.5,368.8 L191.0,368.7 L191.5,368.5 L192.0,368.5 L192.5,368.3 L193.0,368.2 L193.5,368.2 L194.0,368.1 L194.5,367.9 L195.0,367.7 L195.5,367.7 L196.0,367.5 L196.5,367.2 L197.0,367.1 L197.5,367.3 L198.0,367.4 L198.5,367.2 L199.0,367.3 L199.5,367.5 L200.0,367.5 L200.5,367.7 L201.0,367.6 L201.5,367.3 L202.0,367.1 L202.5,367.1 L203.0,366.9 L203.5,366.6 L204.0,366.5 L204.5,366.3 L205.0,366.3 L205.5,366.4 L206.0,366.4 L206.5,366.3 L207.0,366.3 L207.5,366.1 L208.0,366.1 L208.5,366.2 L209.0,366.2 L209.5,366.2 L210.0,366.2 L210.5,366.2 L211.0,366.2 L211.5,366.3 L212.0,366.2 L212.5,366.3 L213.0,366.2 L213.5,366.1 L214.0,365.9 L214.5,366.1 L215.0,366.0 L215.5,365.7 L216.0,365.6 L216.5,365.2 L217.0,365.0 L217.5,365.3 L218.0,365.2 L218.5,365.1 L219.0,365.1 L219.5,364.8 L220.0,364.8 L220.5,365.0 L221.0,365.1 L221.5,365.3 L222.0,365.3 L222.5,365.2 L223.0,365.3 L223.5,365.4 L224.0,365.4 L224.5,365.2 L225.0,365.1 L225.5,365.2 L226.0,365.1 L226.5,364.9 L227.0,365.0 L227.5,365.1 L228.0,365.0 L228.5,364.8 L229.0,364.7 L229.5,364.7 L230.0,364.6 L230.5,364.0 L231.0,363.9 L231.5,364.2 L232.0,364.1 L232.5,364.1 L233.0,364.0 L233.5,363.8 L234.0,363.7 L234.5,363.5 L235.0,363.4 L235.5,363.4 L236.0,363.4 L236.5,363.2 L237.0,363.2 L237.5,363.2 L238.0,363.2 L238.5,363.3 L239.0,363.2 L239.5,363.2 L240.0,363.1 L240.5,363.1 L241.0,363.0 L241.5,362.6 L242.0,362.5 L242.5,362.7 L243.0,362.6 L243.5,362.0 L244.0,362.0 L244.5,362.0 L245.0,362.0 L245.5,362.1 L246.0,362.1 L246.5,362.2 L247.0,362.2 L247.5,361.8 L248.0,361.8 L248.5,361.5 L249.0,361.3 L249.5,361.6 L250.0,361.4 L250.5,361.2 L251.0,361.0 L251.5,360.6 L252.0,360.5 L252.5,360.4 L253.0,360.3 L253.5,360.2 L254.0,360.1 L254.5,360.1 L255.0,359.9 L255.5,359.9 L256.0,359.7 L256.5,359.3 L257.0,359.2 L257.5,359.6 L258.0,359.5 L258.5,359.2 L259.0,359.1 L259.5,359.0 L260.0,359.0 L260.5,359.1 L261.0,359.1 L261.5,359.0 L262.0,359.0 L262.5,359.3 L263.0,359.4 L263.5,359.1 L264.0,359.1 L264.5,358.8 L265.0,358.7 L265.5,358.6 L266.0,358.5 L266.5,358.4 L267.0,358.4 L267.5,358.4 L268.0,358.3 L268.5,358.4 L269.0,358.4 L269.5,358.0 L270.0,357.8 L270.5,357.9 L271.0,357.7 L271.5,357.3 L272.0,357.1 L272.5,357.0 L273.0,356.9 L273.5,357.0 L274.0,356.9 L274.5,356.4 L275.0,356.4 L275.5,356.5 L276.0,356.4 L276.5,356.5 L277.0,356.4 L277.5,356.2 L278.0,356.1 L278.5,356.0 L279.0,356.0 L279.5,356.0 L280.0,356.0 L280.5,355.9 L281.0,355.8 L281.5,355.7 L282.0,355.5 L282.5,355.1 L283.0,354.8 L283.5,354.4 L284.0,354.1 L284.5,354.1 L285.0,353.8 L285.5,353.3 L286.0,353.0 L286.5,352.7 L287.0,352.4 L287.5,352.1 L288.0,351.8 L288.5,351.4 L289.0,351.1 L289.5,350.8 L290.0,350.8 L290.5,350.8 L291.0,350.8 L291.5,350.9 L292.0,350.9 L292.5,350.7 L293.0,350.6 L293.5,350.8 L294.0,350.7 L294.5,350.6 L295.0,350.6 L295.5,350.6 L296.0,350.5 L296.5,350.4 L297.0,350.2 L297.5,349.9 L298.0,349.6 L298.5,349.4 L299.0,349.1 L299.5,348.7 L300.0,348.4 L300.5,347.8 L301.0,347.4 L301.5,347.4 L302.0,347.1 L302.5,346.6 L303.0,346.3 L303.5,346.0 L304.0,345.7 L304.5,345.6 L305.0,345.2 L305.5,344.7 L306.0,344.4 L306.5,344.0 L307.0,343.6 L307.5,343.4 L308.0,343.0 L308.5,342.4 L309.0,342.0 L309.5,341.5 L310.0,341.1 L310.5,340.7 L311.0,340.3 L311.5,339.9 L312.0,339.5 L312.5,339.0 L313.0,338.6 L313.5,338.0 L314.0,337.6 L314.5,337.1 L315.0,336.6 L315.5,336.2 L316.0,335.7 L316.5,335.4 L317.0,334.9 L317.5,334.4 L318.0,334.1 L318.5,333.7 L319.0,333.3 L319.5,333.0 L320.0,332.6 L320.5,332.0 L321.0,331.5 L321.5,331.1 L322.0,330.5 L322.5,329.8 L323.0,329.1 L323.5,328.2 L324.0,327.3 L324.5,326.4 L325.0,325.3 L325.5,324.3 L326.0,323.3 L326.5,322.2 L327.0,321.1 L327.5,320.2 L328.0,319.3 L328.5,318.4 L329.0,317.5 L329.5,316.7 L330.0,315.8 L330.5,314.9 L331.0,314.0 L331.5,313.2 L332.0,312.3 L332.5,311.4 L333.0,310.4 L333.5,309.3 L334.0,308.2 L334.5,307.0 L335.0,305.8 L335.5,304.6 L336.0,303.3 L336.5,301.9 L337.0,300.5 L337.5,299.0 L338.0,297.5 L338.5,296.0 L339.0,294.4 L339.5,292.9 L340.0,291.3 L340.5,289.7 L341.0,288.1 L341.5,286.4 L342.0,284.8 L342.5,283.0 L343.0,281.3 L343.5,279.5 L344.0,277.7 L344.5,275.8 L345.0,273.9 L345.5,272.0 L346.0,270.1 L346.5,268.1 L347.0,266.1 L347.5,264.2 L348.0,262.2 L348.5,260.3 L349.0,258.3 L349.5,256.4 L350.0,254.3 L350.5,252.2 L351.0,250.1 L351.5,247.9 L352.0,245.6 L352.5,243.1 L353.0,240.6 L353.5,237.8 L354.0,234.7 L354.5,231.4 L355.0,227.9 L355.5,224.4 L356.0,220.9 L356.5,217.5 L357.0,214.4 L357.5,211.4 L358.0,208.5 L358.5,205.8 L359.0,203.0 L359.5,200.2 L360.0,197.3 L360.5,194.4 L361.0,191.3 L361.5,187.9 L362.0,184.4 L362.5,180.6 L363.0,176.8 L363.5,172.8 L364.0,168.9 L364.5,165.0 L365.0,161.2 L365.5,157.3 L366.0,153.4 L366.5,149.5 L367.0,145.7 L367.5,142.0 L368.0,138.2 L368.5,134.2 L369.0,130.3 L369.5,126.6 L370.0,123.2 L370.5,120.3 L371.0,117.8 L371.5,115.5 L372.0,113.5 L372.5,111.7 L373.0,110.3 L373.5,109.3 L374.0,108.3 L374.5,107.6 L375.0,106.9 L375.5,106.5 L376.0,107.2 L376.5,107.8 L377.0,108.7 L377.5,109.7 L378.0,110.7 L378.5,112.2 L379.0,114.0 L379.5,116.0 L380.0,118.4 L380.5,121.2 L381.0,125.0 L381.5,129.7 L382.0,134.9 L382.5,140.0 L383.0,145.4 L383.5,151.2 L384.0,157.1 L384.5,162.8 L385.0,168.1 L385.5,173.0 L386.0,177.8 L386.5,182.7 L387.0,187.8 L387.5,193.5 L388.0,199.8 L388.5,206.4 L389.0,212.7 L389.5,218.5 L390.0,223.8 L390.5,228.9 L391.0,234.0 L391.5,239.1 L392.0,244.3 L392.5,249.6 L393.0,254.9 L393.5,260.1 L394.0,265.1 L394.5,270.1 L395.0,275.0 L395.5,279.7 L396.0,284.4 L396.5,288.8 L397.0,293.1 L397.5,297.1 L398.0,301.0 L398.5,304.8 L399.0,308.5 L399.5,312.2 L400.0,315.9 L400.5,319.5 L401.0,323.2 L401.5,326.9 L402.0,330.4 L402.5,333.9 L403.0,337.2 L403.5,340.4 L404.0,343.7 L404.5,346.8 L405.0,349.8 L405.5,352.4 L406.0,354.5 L406.5,356.3 L407.0,358.0 L407.5,359.5 L408.0,360.9 L408.5,362.3 L409.0,363.6 L409.5,365.0 L410.0,366.4 L410.5,367.8 L411.0,369.2 L411.5,370.5 L412.0,371.8 L412.5,372.8 L413.0,373.8 L413.5,374.9 L414.0,375.8 L414.5,376.5 L415.0,377.3 L415.5,378.0 L416.0,378.7 L416.5,379.5 L417.0,380.2 L417.5,380.8 L418.0,381.3 L418.5,381.8 L419.0,382.3 L419.5,382.9 L420.0,383.4 L420.5,383.8 L421.0,384.3 L421.5,384.8 L422.0,385.2 L422.5,385.6 L423.0,385.9 L423.5,386.3 L424.0,386.7 L424.5,387.1 L425.0,387.4 L425.5,387.7 L426.0,388.0 L426.5,388.2 L427.0,388.5 L427.5,388.8 L428.0,389.0 L428.5,389.2 L429.0,389.4 L429.5,389.6 L430.0,389.8 L430.5,389.9 L431.0,390.1 L431.5,390.3 L432.0,390.4 L432.5,390.4 L433.0,390.5 L433.5,390.7 L434.0,390.8 L434.5,391.0 L435.0,391.2 L435.5,391.4 L436.0,391.6 L436.5,391.8 L437.0,391.9 L437.5,392.0 L438.0,392.2 L438.5,392.3 L439.0,392.4 L439.5,392.4 L440.0,392.5 L440.5,392.5 L441.0,392.5 L441.5,392.6 L442.0,392.7 L442.5,392.8 L443.0,392.9 L443.5,393.0 L444.0,393.1 L444.5,393.2 L445.0,393.3 L445.5,393.4 L446.0,393.5 L446.5,393.7 L447.0,393.8 L447.5,393.8 L448.0,393.8 L448.5,393.6 L449.0,393.5 L449.5,393.7 L450.0,393.7 L450.5,393.7 L451.0,393.7 L451.5,393.9 L452.0,393.9 L452.5,393.7 L453.0,393.8 L453.5,393.8 L454.0,393.8 L454.5,394.0 L455.0,394.1 L455.5,394.0 L456.0,394.1 L456.5,394.3 L457.0,394.4 L457.5,394.5 L458.0,394.6 L458.5,394.7 L459.0,394.7 L459.5,394.6 L460.0,394.6 L460.5,394.7 L461.0,394.7 L461.5,394.8 L462.0,394.8 L462.5,394.7 L463.0,394.7 L463.5,394.8 L464.0,394.8 L464.5,394.8 L465.0,394.8 L465.5,395.1 L466.0,395.1 L466.5,395.1 L467.0,395.1 L467.5,395.1 L468.0,395.2 L468.5,394.9 L469.0,394.9 L469.5,395.2 L470.0,395.2 L470.5,395.1 L471.0,395.1 L471.5,395.3 L472.0,395.3 L472.5,395.3 L473.0,395.3 L473.5,395.2 L474.0,395.2 L474.5,395.3 L475.0,395.3 L475.5,395.4 L476.0,395.4 L476.5,395.4 L477.0,395.4 L477.5,395.4 L478.0,395.4 L478.5,395.3 L479.0,395.3 L479.5,395.3 L480.0,395.3 L480.5,395.4 L481.0,395.4 L481.5,395.7 L482.0,395.7 L482.5,395.9 L483.0,396.0 L483.5,396.0 L484.0,396.0 L484.5,396.0 L485.0,396.0 L485.5,395.8 L486.0,395.8 L486.5,395.8 L487.0,395.8 L487.5,395.6 L488.0,395.6 L488.5,395.5 L489.0,395.5 L489.5,395.5 L490.0,395.6 L490.5,395.8 L491.0,395.8 L491.5,395.8 L492.0,395.8 L492.5,396.1 L493.0,396.2 L493.5,396.0 L494.0,396.0 L494.5,395.9 L495.0,395.8 L495.5,395.7 L496.0,395.6 L496.5,395.7 L497.0,395.7 L497.5,395.5 L498.0,395.5 L498.5,395.7 L499.0,395.8 L499.5,395.8 L500.0,395.8 L500.5,395.9 L501.0,396.0 L501.5,395.9 L502.0,396.0 L502.5,396.0 L503.0,396.1 L503.5,396.2 L504.0,396.3 L504.5,396.3 L505.0,396.3 L505.5,396.4 L506.0,396.4 L506.5,396.3 L507.0,396.2 L507.5,396.4 L508.0,396.4 L508.5,396.2 L509.0,396.1 L509.5,396.2 L510.0,396.2 L510.5,396.0 L511.0,396.0 L511.5,396.0 L512.0,396.0 L512.5,396.0 L513.0,395.9 L513.5,396.0 L514.0,396.0 L514.5,396.1 L515.0,396.2 L515.5,396.1 L516.0,396.1 L516.5,396.2 L517.0,396.2 L517.5,396.4 L518.0,396.4 L518.5,396.3 L519.0,396.3 L519.5,396.2 L520.0,396.2 L520.5,396.4 L521.0,396.3 L521.5,396.3 L522.0,396.2 L522.5,395.8 L523.0,395.8 L523.5,396.0 L524.0,396.0 L524.5,396.2 L525.0,396.2 L525.5,396.2 L526.0,396.2 L526.5,396.1 L527.0,396.1 L527.5,396.3 L528.0,396.2 L528.5,396.0 L529.0,395.9 L529.5,396.0 L530.0,396.0 L530.5,396.0 L531.0,396.1 L531.5,396.1 L532.0,396.1 L532.5,396.2 L533.0,396.2 L533.5,396.2 L534.0,396.1 L534.5,395.9 L535.0,395.8 L535.5,395.9 L536.0,395.8 L536.5,395.6 L537.0,395.6 L537.5,395.7 L538.0,395.7 L538.5,396.0 L539.0,396.0 L539.5,395.9 L540.0,395.9 L540.5,396.1 L541.0,396.1"/>
<path class="curve tip" stroke="#0F95FF" d="M372.9,110.5 L374.1,108.0 L375.4,106.4 L376.6,108.0 L377.9,110.5"/>
<path class="curve" stroke="#F4A162" d="M43.5,372.5 L44.0,372.4 L44.5,371.9 L45.0,371.8 L45.5,371.5 L46.0,371.3 L46.5,371.7 L47.0,371.6 L47.5,371.6 L48.0,371.5 L48.5,371.6 L49.0,371.7 L49.5,371.4 L50.0,371.6 L50.5,371.6 L51.0,371.8 L51.5,371.9 L52.0,372.0 L52.5,372.3 L53.0,372.4 L53.5,372.6 L54.0,372.5 L54.5,372.5 L55.0,372.4 L55.5,371.9 L56.0,371.7 L56.5,372.0 L57.0,371.9 L57.5,371.7 L58.0,371.7 L58.5,371.8 L59.0,372.0 L59.5,372.1 L60.0,372.3 L60.5,372.5 L61.0,372.6 L61.5,372.8 L62.0,372.7 L62.5,372.5 L63.0,372.4 L63.5,372.3 L64.0,372.2 L64.5,372.0 L65.0,372.0 L65.5,372.2 L66.0,372.2 L66.5,372.1 L67.0,372.2 L67.5,371.7 L68.0,371.8 L68.5,372.4 L69.0,372.5 L69.5,372.4 L70.0,372.5 L70.5,372.9 L71.0,372.9 L71.5,372.8 L72.0,372.8 L72.5,372.8 L73.0,372.7 L73.5,372.7 L74.0,372.6 L74.5,372.4 L75.0,372.3 L75.5,372.1 L76.0,372.1 L76.5,371.7 L77.0,371.7 L77.5,372.4 L78.0,372.4 L78.5,371.7 L79.0,371.7 L79.5,372.1 L80.0,372.2 L80.5,372.4 L81.0,372.5 L81.5,372.4 L82.0,372.4 L82.5,372.4 L83.0,372.3 L83.5,372.3 L84.0,372.2 L84.5,372.2 L85.0,372.1 L85.5,371.9 L86.0,371.8 L86.5,372.3 L87.0,372.3 L87.5,371.4 L88.0,371.5 L88.5,371.8 L89.0,371.8 L89.5,371.8 L90.0,371.9 L90.5,372.0 L91.0,372.1 L91.5,372.3 L92.0,372.3 L92.5,372.5 L93.0,372.4 L93.5,371.9 L94.0,371.8 L94.5,371.7 L95.0,371.6 L95.5,371.9 L96.0,371.8 L96.5,371.8 L97.0,371.8 L97.5,372.1 L98.0,372.1 L98.5,371.8 L99.0,371.7 L99.5,371.5 L100.0,371.3 L100.5,371.2 L101.0,371.2 L101.5,371.4 L102.0,371.6 L102.5,371.6 L103.0,371.8 L103.5,371.6 L104.0,371.5 L104.5,371.7 L105.0,371.5 L105.5,371.2 L106.0,371.0 L106.5,370.9 L107.0,370.8 L107.5,370.7 L108.0,370.7 L108.5,371.2 L109.0,371.3 L109.5,371.1 L110.0,371.3 L110.5,371.5 L111.0,371.6 L111.5,371.4 L112.0,371.6 L112.5,371.7 L113.0,371.8 L113.5,372.0 L114.0,372.1 L114.5,372.1 L115.0,372.0 L115.5,371.8 L116.0,371.6 L116.5,371.5 L117.0,371.3 L117.5,371.4 L118.0,371.2 L118.5,371.0 L119.0,370.9 L119.5,370.6 L120.0,370.7 L120.5,370.9 L121.0,371.0 L121.5,370.9 L122.0,370.9 L122.5,371.0 L123.0,371.0 L123.5,370.6 L124.0,370.5 L124.5,370.6 L125.0,370.6 L125.5,370.7 L126.0,370.6 L126.5,370.4 L127.0,370.3 L127.5,370.0 L128.0,369.9 L128.5,369.9 L129.0,369.9 L129.5,370.0 L130.0,369.9 L130.5,370.0 L131.0,369.9 L131.5,370.0 L132.0,369.9 L132.5,369.7 L133.0,369.7 L133.5,369.5 L134.0,369.5 L134.5,370.0 L135.0,370.0 L135.5,369.8 L136.0,369.9 L136.5,369.9 L137.0,370.0 L137.5,370.0 L138.0,370.0 L138.5,369.7 L139.0,369.6 L139.5,369.6 L140.0,369.5 L140.5,369.5 L141.0,369.4 L141.5,369.5 L142.0,369.5 L142.5,369.3 L143.0,369.3 L143.5,368.7 L144.0,368.7 L144.5,369.1 L145.0,368.9 L145.5,368.8 L146.0,368.6 L146.5,368.6 L147.0,368.4 L147.5,368.1 L148.0,368.0 L148.5,368.3 L149.0,368.4 L149.5,368.3 L150.0,368.4 L150.5,368.5 L151.0,368.6 L151.5,368.6 L152.0,368.5 L152.5,368.0 L153.0,367.9 L153.5,368.2 L154.0,368.1 L154.5,368.0 L155.0,367.9 L155.5,367.6 L156.0,367.6 L156.5,367.7 L157.0,367.8 L157.5,367.8 L158.0,367.9 L158.5,367.8 L159.0,367.9 L159.5,368.1 L160.0,368.1 L160.5,368.0 L161.0,368.0 L161.5,368.1 L162.0,368.0 L162.5,367.9 L163.0,367.8 L163.5,367.9 L164.0,367.8 L164.5,367.2 L165.0,367.1 L165.5,367.3 L166.0,367.1 L166.5,366.8 L167.0,366.6 L167.5,366.7 L168.0,366.6 L168.5,366.7 L169.0,366.6 L169.5,366.4 L170.0,366.3 L170.5,366.2 L171.0,366.1 L171.5,366.1 L172.0,366.1 L172.5,366.5 L173.0,366.5 L173.5,366.1 L174.0,366.2 L174.5,366.5 L175.0,366.5 L175.5,366.0 L176.0,366.0 L176.5,366.1 L177.0,366.0 L177.5,366.1 L178.0,366.0 L178.5,365.8 L179.0,365.7 L179.5,365.8 L180.0,365.7 L180.5,365.7 L181.0,365.6 L181.5,365.2 L182.0,365.1 L182.5,365.2 L183.0,365.1 L183.5,365.0 L184.0,365.0 L184.5,364.7 L185.0,364.8 L185.5,365.2 L186.0,365.3 L186.5,365.2 L187.0,365.2 L187.5,365.6 L188.0,365.4 L188.5,364.9 L189.0,364.7 L189.5,365.2 L190.0,365.2 L190.5,364.8 L191.0,364.9 L191.5,365.5 L192.0,365.5 L192.5,365.3 L193.0,365.2 L193.5,365.1 L194.0,365.1 L194.5,365.1 L195.0,365.0 L195.5,365.0 L196.0,365.0 L196.5,365.1 L197.0,365.1 L197.5,365.1 L198.0,365.0 L198.5,364.5 L199.0,364.5 L199.5,364.3 L200.0,364.4 L200.5,364.2 L201.0,364.4 L201.5,364.9 L202.0,364.9 L202.5,365.1 L203.0,365.0 L203.5,364.9 L204.0,364.8 L204.5,364.7 L205.0,364.5 L205.5,364.3 L206.0,364.1 L206.5,363.8 L207.0,363.6 L207.5,363.6 L208.0,363.5 L208.5,363.6 L209.0,363.7 L209.5,363.4 L210.0,363.4 L210.5,363.9 L211.0,363.9 L211.5,363.5 L212.0,363.4 L212.5,363.7 L213.0,363.7 L213.5,363.5 L214.0,363.5 L214.5,363.4 L215.0,363.2 L215.5,362.9 L216.0,362.8 L216.5,362.6 L217.0,362.5 L217.5,362.6 L218.0,362.5 L218.5,362.2 L219.0,362.2 L219.5,362.7 L220.0,362.6 L220.5,362.1 L221.0,362.1 L221.5,362.0 L222.0,361.9 L222.5,361.8 L223.0,361.7 L223.5,361.5 L224.0,361.4 L224.5,361.1 L225.0,361.0 L225.5,361.2 L226.0,361.0 L226.5,360.9 L227.0,360.8 L227.5,360.3 L228.0,360.2 L228.5,360.3 L229.0,360.2 L229.5,359.9 L230.0,359.9 L230.5,360.0 L231.0,360.0 L231.5,360.1 L232.0,360.2 L232.5,360.3 L233.0,360.4 L233.5,360.4 L234.0,360.5 L234.5,360.2 L235.0,360.2 L235.5,360.4 L236.0,360.3 L236.5,359.9 L237.0,359.8 L237.5,360.0 L238.0,360.0 L238.5,360.1 L239.0,360.2 L239.5,360.1 L240.0,360.2 L240.5,360.1 L241.0,360.1 L241.5,360.4 L242.0,360.2 L242.5,359.8 L243.0,359.6 L243.5,359.4 L244.0,359.2 L244.5,359.0 L245.0,358.9 L245.5,359.0 L246.0,358.9 L246.5,358.6 L247.0,358.6 L247.5,358.2 L248.0,358.3 L248.5,358.8 L249.0,358.8 L249.5,359.0 L250.0,358.9 L250.5,358.8 L251.0,358.6 L251.5,358.1 L252.0,357.9 L252.5,357.7 L253.0,357.5 L253.5,357.3 L254.0,357.1 L254.5,356.9 L255.0,356.7 L255.5,356.4 L256.0,356.2 L256.5,355.9 L257.0,355.8 L257.5,355.8 L258.0,355.7 L258.5,355.5 L259.0,355.4 L259.5,355.0 L260.0,354.8 L260.5,354.8 L261.0,354.7 L261.5,354.6 L262.0,354.5 L262.5,354.3 L263.0,354.2 L263.5,354.1 L264.0,353.9 L264.5,353.8 L265.0,353.8 L265.5,353.7 L266.0,353.7 L266.5,353.5 L267.0,353.5 L267.5,353.2 L268.0,353.2 L268.5,353.6 L269.0,353.6 L269.5,353.8 L270.0,353.8 L270.5,353.9 L271.0,353.8 L271.5,353.4 L272.0,353.3 L272.5,353.2 L273.0,352.9 L273.5,352.8 L274.0,352.5 L274.5,352.2 L275.0,351.9 L275.5,351.5 L276.0,351.3 L276.5,351.2 L277.0,351.0 L277.5,350.7 L278.0,350.6 L278.5,350.8 L279.0,350.8 L279.5,350.6 L280.0,350.6 L280.5,350.6 L281.0,350.4 L281.5,350.2 L282.0,349.9 L282.5,349.6 L283.0,349.2 L283.5,348.8 L284.0,348.4 L284.5,348.2 L285.0,347.9 L285.5,347.7 L286.0,347.3 L286.5,347.0 L287.0,346.7 L287.5,346.5 L288.0,346.3 L288.5,346.1 L289.0,345.9 L289.5,345.7 L290.0,345.5 L290.5,345.3 L291.0,345.1 L291.5,344.7 L292.0,344.5 L292.5,344.4 L293.0,344.2 L293.5,343.9 L294.0,343.7 L294.5,343.4 L295.0,343.2 L295.5,342.9 L296.0,342.7 L296.5,342.6 L297.0,342.3 L297.5,341.9 L298.0,341.6 L298.5,341.5 L299.0,341.2 L299.5,340.7 L300.0,340.4 L300.5,340.1 L301.0,339.8 L301.5,339.5 L302.0,339.1 L302.5,339.0 L303.0,338.7 L303.5,338.2 L304.0,337.8 L304.5,337.6 L305.0,337.2 L305.5,336.9 L306.0,336.5 L306.5,336.3 L307.0,336.0 L307.5,335.7 L308.0,335.5 L308.5,335.3 L309.0,335.0 L309.5,334.4 L310.0,334.1 L310.5,333.8 L311.0,333.4 L311.5,333.1 L312.0,332.7 L312.5,332.1 L313.0,331.6 L313.5,331.2 L314.0,330.6 L314.5,330.0 L315.0,329.4 L315.5,328.6 L316.0,327.9 L316.5,327.2 L317.0,326.3 L317.5,325.5 L318.0,324.6 L318.5,323.7 L319.0,322.8 L319.5,321.8 L320.0,321.0 L320.5,320.2 L321.0,319.3 L321.5,318.4 L322.0,317.5 L322.5,316.6 L323.0,315.7 L323.5,314.7 L324.0,313.8 L324.5,312.8 L325.0,311.8 L325.5,310.8 L326.0,309.8 L326.5,308.7 L327.0,307.7 L327.5,306.7 L328.0,305.6 L328.5,304.4 L329.0,303.3 L329.5,302.2 L330.0,301.0 L330.5,299.9 L331.0,298.7 L331.5,297.5 L332.0,296.2 L332.5,295.0 L333.0,293.7 L333.5,292.3 L334.0,290.9 L334.5,289.4 L335.0,287.8 L335.5,286.2 L336.0,284.5 L336.5,282.6 L337.0,280.8 L337.5,278.8 L338.0,276.9 L338.5,274.9 L339.0,273.0 L339.5,271.0 L340.0,269.0 L340.5,267.1 L341.0,265.3 L341.5,263.4 L342.0,261.7 L342.5,259.9 L343.0,258.2 L343.5,256.6 L344.0,254.9 L344.5,253.1 L345.0,251.4 L345.5,249.6 L346.0,247.7 L346.5,245.8 L347.0,243.8 L347.5,241.7 L348.0,239.5 L348.5,237.1 L349.0,234.4 L349.5,231.6 L350.0,228.6 L350.5,225.6 L351.0,222.6 L351.5,219.6 L352.0,216.7 L352.5,213.9 L353.0,211.2 L353.5,208.6 L354.0,206.1 L354.5,203.5 L355.0,200.9 L355.5,198.3 L356.0,195.7 L356.5,192.9 L357.0,190.0 L357.5,187.0 L358.0,183.8 L358.5,180.4 L359.0,177.1 L359.5,173.7 L360.0,170.3 L360.5,167.0 L361.0,163.7 L361.5,160.6 L362.0,157.6 L362.5,154.6 L363.0,151.6 L363.5,148.6 L364.0,145.5 L364.5,142.1 L365.0,138.5 L365.5,134.3 L366.0,129.9 L366.5,125.4 L367.0,121.4 L367.5,118.0 L368.0,115.0 L368.5,112.2 L369.0,109.6 L369.5,107.0 L370.0,104.4 L370.5,101.9 L371.0,99.4 L371.5,97.2 L372.0,95.1 L372.5,93.4 L373.0,92.0 L373.5,90.8 L374.0,89.6 L374.5,88.6 L375.0,88.0 L375.5,87.4 L376.0,87.8 L376.5,88.4 L377.0,89.1 L377.5,90.3 L378.0,91.5 L378.5,92.8 L379.0,94.4 L379.5,96.7 L380.0,99.7 L380.5,103.1 L381.0,106.5 L381.5,109.8 L382.0,113.1 L382.5,116.5 L383.0,120.0 L383.5,123.7 L384.0,127.4 L384.5,131.2 L385.0,135.4 L385.5,140.0 L386.0,145.5 L386.5,151.8 L387.0,158.4 L387.5,165.0 L388.0,171.6 L388.5,178.5 L389.0,185.1 L389.5,191.1 L390.0,196.6 L390.5,201.7 L391.0,206.7 L391.5,211.8 L392.0,217.2 L392.5,222.9 L393.0,228.7 L393.5,234.4 L394.0,240.0 L394.5,245.4 L395.0,250.6 L395.5,255.8 L396.0,260.9 L396.5,266.1 L397.0,271.3 L397.5,276.6 L398.0,281.8 L398.5,286.8 L399.0,291.4 L399.5,295.7 L400.0,299.8 L400.5,303.7 L401.0,307.6 L401.5,311.3 L402.0,315.0 L402.5,318.7 L403.0,322.2 L403.5,325.7 L404.0,329.2 L404.5,332.5 L405.0,335.8 L405.5,339.0 L406.0,342.2 L406.5,345.4 L407.0,348.4 L407.5,351.1 L408.0,353.4 L408.5,355.3 L409.0,357.0 L409.5,358.5 L410.0,360.0 L410.5,361.3 L411.0,362.7 L411.5,364.1 L412.0,365.6 L412.5,366.9 L413.0,368.3 L413.5,369.6 L414.0,370.9 L414.5,372.0 L415.0,373.0 L415.5,373.9 L416.0,374.8 L416.5,375.5 L417.0,376.3 L417.5,377.0 L418.0,377.7 L418.5,378.4 L419.0,379.0 L419.5,379.6 L420.0,380.2 L420.5,380.8 L421.0,381.3 L421.5,381.8 L422.0,382.3 L422.5,382.7 L423.0,383.2 L423.5,383.6 L424.0,384.0 L424.5,384.4 L425.0,384.8 L425.5,385.2 L426.0,385.6 L426.5,385.9 L427.0,386.2 L427.5,386.5 L428.0,386.8 L428.5,387.1 L429.0,387.4 L429.5,387.6 L430.0,387.8 L430.5,388.0 L431.0,388.2 L431.5,388.3 L432.0,388.5 L432.5,388.8 L433.0,389.0 L433.5,389.1 L434.0,389.3 L434.5,389.6 L435.0,389.8 L435.5,390.0 L436.0,390.1 L436.5,390.3 L437.0,390.4 L437.5,390.4 L438.0,390.4 L438.5,390.6 L439.0,390.7 L439.5,390.8 L440.0,390.9 L440.5,391.0 L441.0,391.1 L441.5,391.2 L442.0,391.3 L442.5,391.5 L443.0,391.6 L443.5,391.7 L444.0,391.7 L444.5,391.9 L445.0,392.0 L445.5,392.1 L446.0,392.2 L446.5,392.3 L447.0,392.4 L447.5,392.5 L448.0,392.6 L448.5,392.4 L449.0,392.4 L449.5,392.6 L450.0,392.6 L450.5,392.6 L451.0,392.7 L451.5,393.0 L452.0,393.1 L452.5,393.1 L453.0,393.3 L453.5,393.1 L454.0,393.2 L454.5,393.6 L455.0,393.7 L455.5,393.5 L456.0,393.5 L456.5,393.7 L457.0,393.7 L457.5,393.6 L458.0,393.6 L458.5,393.6 L459.0,393.6 L459.5,393.6 L460.0,393.5 L460.5,393.5 L461.0,393.4 L461.5,393.3 L462.0,393.4 L462.5,393.6 L463.0,393.7 L463.5,393.7 L464.0,393.8 L464.5,393.9 L465.0,394.0 L465.5,394.2 L466.0,394.3 L466.5,394.2 L467.0,394.2 L467.5,394.5 L468.0,394.5 L468.5,394.3 L469.0,394.3 L469.5,394.3 L470.0,394.4 L470.5,394.4 L471.0,394.4 L471.5,394.4 L472.0,394.4 L472.5,394.4 L473.0,394.4 L473.5,394.5 L474.0,394.5 L474.5,394.5 L475.0,394.4 L475.5,394.5 L476.0,394.4 L476.5,394.3 L477.0,394.3 L477.5,394.2 L478.0,394.3 L478.5,394.5 L479.0,394.6 L479.5,394.7 L480.0,394.7 L480.5,394.7 L481.0,394.7 L481.5,394.6 L482.0,394.7 L482.5,394.6 L483.0,394.7 L483.5,395.1 L484.0,395.2 L484.5,395.1 L485.0,395.1 L485.5,395.3 L486.0,395.2 L486.5,394.9 L487.0,394.8 L487.5,395.0 L488.0,394.9 L488.5,394.7 L489.0,394.7 L489.5,394.9 L490.0,394.9 L490.5,395.0 L491.0,395.0 L491.5,394.9 L492.0,394.9 L492.5,394.6 L493.0,394.5 L493.5,394.5 L494.0,394.5 L494.5,394.4 L495.0,394.4 L495.5,394.5 L496.0,394.5 L496.5,394.5 L497.0,394.5 L497.5,394.5 L498.0,394.5 L498.5,394.6 L499.0,394.6 L499.5,394.8 L500.0,394.8 L500.5,394.9 L501.0,395.0 L501.5,395.1 L502.0,395.1 L502.5,394.9 L503.0,394.9 L503.5,395.0 L504.0,395.0 L504.5,394.9 L505.0,395.0 L505.5,395.1 L506.0,395.1 L506.5,395.2 L507.0,395.1 L507.5,395.1 L508.0,395.0 L508.5,395.1 L509.0,395.1 L509.5,395.3 L510.0,395.3 L510.5,395.2 L511.0,395.3 L511.5,395.3 L512.0,395.3 L512.5,395.3 L513.0,395.3 L513.5,395.3 L514.0,395.3 L514.5,395.2 L515.0,395.1 L515.5,395.2 L516.0,395.1 L516.5,395.0 L517.0,395.0 L517.5,394.9 L518.0,394.8 L518.5,394.9 L519.0,394.9 L519.5,394.9 L520.0,395.0 L520.5,395.0 L521.0,395.1 L521.5,395.2 L522.0,395.2 L522.5,395.0 L523.0,395.0 L523.5,395.0 L524.0,394.9 L524.5,394.8 L525.0,394.8 L525.5,394.7 L526.0,394.7 L526.5,394.6 L527.0,394.6 L527.5,394.6 L528.0,394.5 L528.5,394.6 L529.0,394.6 L529.5,394.5 L530.0,394.5 L530.5,394.6 L531.0,394.7 L531.5,394.9 L532.0,394.9 L532.5,394.9 L533.0,394.9 L533.5,395.1 L534.0,395.2 L534.5,395.1 L535.0,395.1 L535.5,395.1 L536.0,395.1 L536.5,395.0 L537.0,394.9 L537.5,395.0 L538.0,394.9 L538.5,395.1 L539.0,395.1 L539.5,394.9 L540.0,394.9 L540.5,394.9 L541.0,394.9"/>
<path class="curve tip" stroke="#F4A162" d="M373.1,91.7 L374.4,88.8 L375.6,87.3 L376.9,88.8 L378.1,91.7"/>
</g>
<!-- plot frame -->
<rect class="axis" x="42.8" y="9.85" width="499.6" height="421.1"/>
<!-- x ticks and tick labels -->
<g id="ticks">
<line class="tick" x1="42.80" y1="431.0" x2="42.80" y2="435.6" stroke-width="4.4"/>
<line class="tick" x1="93.50" y1="431.0" x2="93.50" y2="439.6" stroke-width="3.8"/>
<line class="tick" x1="143.36" y1="431.0" x2="143.36" y2="435.8" stroke-width="3.8"/>
<line class="tick" x1="193.22" y1="431.0" x2="193.22" y2="439.6" stroke-width="3.8"/>
<line class="tick" x1="243.08" y1="431.0" x2="243.08" y2="435.8" stroke-width="3.8"/>
<line class="tick" x1="292.94" y1="431.0" x2="292.94" y2="439.6" stroke-width="3.8"/>
<line class="tick" x1="342.80" y1="431.0" x2="342.80" y2="435.8" stroke-width="3.8"/>
<line class="tick" x1="392.66" y1="431.0" x2="392.66" y2="439.6" stroke-width="3.8"/>
<line class="tick" x1="442.52" y1="431.0" x2="442.52" y2="435.8" stroke-width="3.8"/>
<line class="tick" x1="492.38" y1="431.0" x2="492.38" y2="439.6" stroke-width="3.8"/>
<line class="tick" x1="542.35" y1="431.0" x2="542.35" y2="435.6" stroke-width="4.4"/>
</g>
<g id="ticklabels">
<text transform="translate(92.5,464.25) scale(1,1.03)" text-anchor="middle" font-size="24.7">296</text>
<text transform="translate(192.2,464.25) scale(1,1.03)" text-anchor="middle" font-size="24.7">292</text>
<text transform="translate(291.9,464.25) scale(1,1.03)" text-anchor="middle" font-size="24.7">288</text>
<text transform="translate(391.7,464.25) scale(1,1.03)" text-anchor="middle" font-size="24.7">284</text>
<text transform="translate(491.4,464.25) scale(1,1.03)" text-anchor="middle" font-size="24.7">280</text>
</g>
<!-- legend -->
<g id="legend">
<line class="key" x1="115.6" y1="92.6" x2="165.9" y2="92.6" stroke="#FF78C7"/>
<text transform="translate(172.4,100.45) scale(1,1.03)" font-size="24.6">CNN-1-9-700</text>
<line class="key" x1="115.6" y1="123.7" x2="165.9" y2="123.7" stroke="#0FD916"/>
<text transform="translate(172.4,131.48) scale(1,1.03)" font-size="24.6">CNN-1-9-800</text>
<line class="key" x1="115.6" y1="154.6" x2="165.9" y2="154.6" stroke="#0F95FF"/>
<text transform="translate(172.4,162.51) scale(1,1.03)" font-size="24.6">CNN-1-9-900</text>
<line class="key" x1="115.6" y1="185.3" x2="165.9" y2="185.3" stroke="#F4A162"/>
<text transform="translate(172.4,193.54) scale(1,1.03)" font-size="24.6">CNN-1-9-1000</text>
</g>
<!-- axis titles -->
<text transform="translate(117.9,498.3) scale(1,1.025)" font-size="36.6">Binding Energy (eV)</text>
<text transform="translate(30.2,345.9) rotate(-90) scale(1,1.025)" font-size="36.6">Intensity (a.u.)</text>
</svg>
</body></html>
